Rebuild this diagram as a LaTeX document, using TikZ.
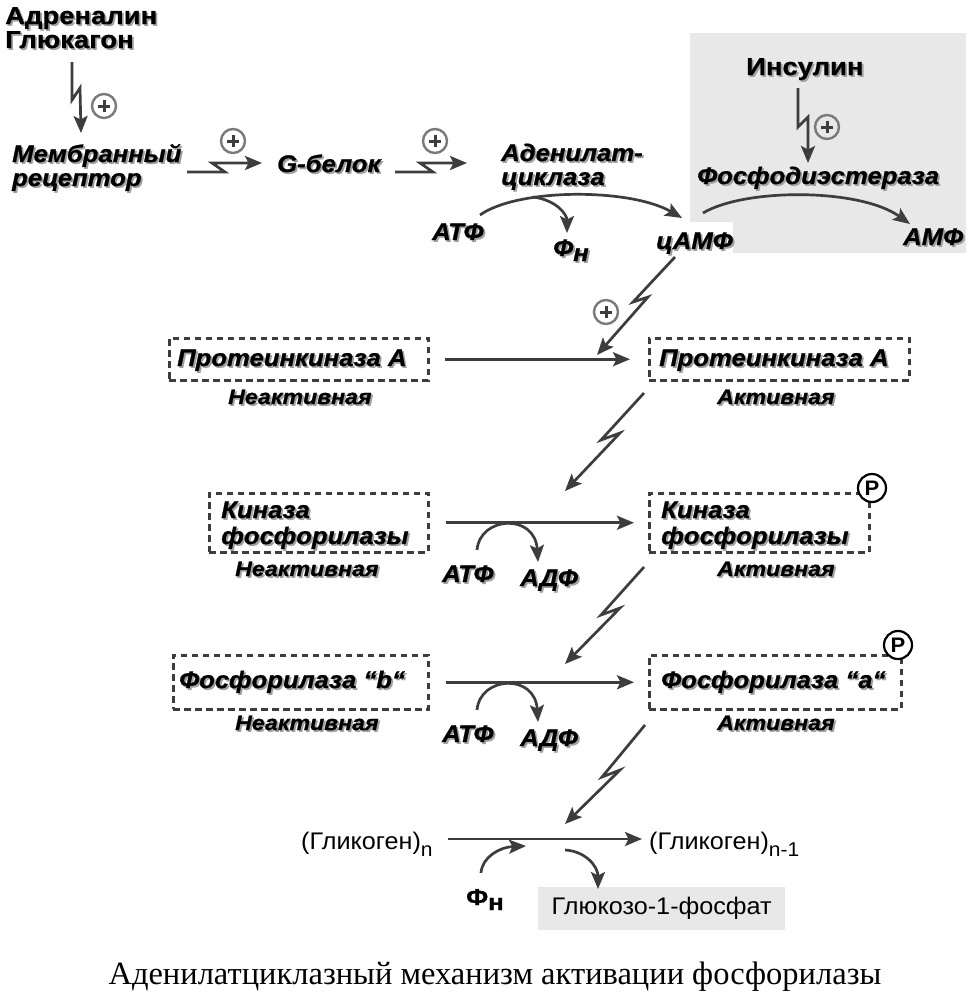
\documentclass[tikz,border=0pt]{standalone}
\usepackage{fontspec}
\setmainfont{Liberation Serif}
\newfontfamily\fbu{Liberation Sans}[FakeStretch=1.12, FakeBold=0.8]
\newfontfamily\fbi{Liberation Sans}[FakeStretch=1.07, FakeBold=0.9]
\newfontfamily\fbs{Liberation Sans}[FakeStretch=1.1, FakeBold=0.8]
\newfontfamily\freg{Liberation Sans}[FakeStretch=1.05]
\usetikzlibrary{arrows.meta,calc}
\definecolor{ln}{HTML}{3D3D3D}
\definecolor{shd}{HTML}{A0A0A0}
\definecolor{gbox}{HTML}{E8E8E8}
\definecolor{pc}{HTML}{7A7A7A}
\newcommand\sh[1]{\leavevmode\rlap{\kern1.8pt\raisebox{-1.8pt}{\textcolor{shd}{#1}}}#1}
\tikzset{
 lbl/.style={inner sep=0pt, anchor=base west, font=\fbi\bfseries\itshape\fontsize{24}{26}\selectfont},
 lblu/.style={inner sep=0pt, anchor=base west, font=\fbu\bfseries\fontsize{24.5}{26}\selectfont},
 sml/.style={inner sep=0pt, anchor=base west, font=\fbs\bfseries\itshape\fontsize{21}{23}\selectfont},
 reg/.style={inner sep=0pt, anchor=base west, font=\freg\fontsize{24}{26}\selectfont},
 arr/.style={draw=ln, line width=2.7pt, line join=miter, -{Stealth[length=17pt,width=14pt,inset=3.5pt]}},
 dbox/.style={draw=ln, line width=2.5pt, dash pattern=on 6.5pt off 4.5pt, inner sep=0pt, anchor=north west},
 plus/.style={circle, draw=pc, line width=2.4pt, minimum size=24pt, inner sep=0pt,
   path picture={\draw[ln, line width=3pt]
     ([xshift=-6pt]path picture bounding box.center) -- ([xshift=6pt]path picture bounding box.center)
     ([yshift=-6pt]path picture bounding box.center) -- ([yshift=6pt]path picture bounding box.center);}},
 pcirc/.style={circle, draw=black, line width=2.2pt, fill=white, minimum size=28pt, inner sep=0pt, font=\freg\bfseries\fontsize{21}{21}\selectfont},
}
\begin{document}
\begin{tikzpicture}[x=1pt,y=-1pt]
\useasboundingbox[fill=white] (0,0) rectangle (969,1001);
% grey insulin area
\fill[gbox] (690,33) rectangle (966,253);
\fill[white] (640,222) rectangle (733,254);

% top chain
\node[lblu] (adr) at (5,24) {\sh{Адреналин}};
\node[lblu] (glu) at (5,48) {\sh{Глюкагон}};
\coordinate (z1s) at (72,62); \coordinate (z1e) at (81,133);
\draw[arr] (z1s) -- ++(0,38) -- ++(8,-12) -- (z1e);
\node[plus] (p1) at (104,106) {};

\node[lbl] (mem) at (12,162) {\sh{Мембранный}};
\node[lbl] (rec) at (12,186) {\sh{рецептор}};
\coordinate (z2s) at (187,172); \coordinate (z2e) at (262,163);
\draw[arr] (z2s) -- ++(38,0) -- ++(-13,-9) -- (z2e);
\node[plus] (p2) at (233,141) {};

\node[lbl] (gb) at (277,172) {\sh{G-белок}};
\coordinate (z3s) at (395,172); \coordinate (z3e) at (467,163);
\draw[arr] (z3s) -- ++(38,0) -- ++(-13,-9) -- (z3e);
\node[plus] (p3) at (435,141) {};

\node[lbl] (ac1) at (501,161) {\sh{Аденилат-}};
\node[lbl] (ac2) at (501,185) {\sh{циклаза}};
\node[lbl] (atp0) at (432,240) {\sh{АТФ}};
\node[lbl] (fn0) at (553,256) {\sh{Ф\raisebox{-5pt}{н}}};
\node[lbl] (camp) at (656,249) {\sh{цАМФ}};
\coordinate (a0s) at (480,215); \coordinate (a0e) at (682,218);
\draw[arr] (a0s) .. controls (518,188) and (630,188) .. (a0e);
\coordinate (b0s) at (533,197); \coordinate (b0e) at (567,233);
\draw[arr] (b0s) .. controls (556,200) and (567,214) .. (b0e);

% insulin
\node[lblu] (ins) at (746,75) {\sh{Инсулин}};
\coordinate (z4s) at (798,88); \coordinate (z4e) at (808,163);
\draw[arr] (z4s) -- ++(0,39) -- ++(10,-10) -- (z4e);
\node[plus] (p4) at (827,127) {};
\node[lbl] (pde) at (697,184) {\sh{Фосфодиэстераза}};
\node[lbl] (amp) at (903,245) {\sh{АМФ}};
\coordinate (a1s) at (703,213); \coordinate (a1e) at (910,224);
\draw[arr] (a1s) .. controls (745,188) and (860,188) .. (a1e);

% cAMP -> PKA
\coordinate (z5s) at (675,257); \coordinate (z5e) at (597,355);
\draw[arr] (z5s) -- (633,302) -- (648,297) -- (z5e);
\node[plus] (p5) at (606,312) {};

% row 1
\node[dbox, minimum width=259pt, minimum height=42pt] (pkL) at (168,337) {};
\node[lbl] (pkLt) at (177,366) {\sh{Протеинкиназа А}};
\node[sml] (in1) at (228,404) {\sh{Неактивная}};
\node[dbox, minimum width=260pt, minimum height=42pt] (pkR) at (648,337) {};
\node[lbl] (pkRt) at (659,366) {\sh{Протеинкиназа А}};
\node[sml] (ac1a) at (717,404) {\sh{Активная}};
\draw[arr, shorten <=15pt, shorten >=18pt] (pkL) -- (pkR);

\coordinate (z6s) at (644,393); \coordinate (z6e) at (565,491);
\draw[arr] (z6s) -- (601,440) -- (620,433) -- (z6e);

% row 2
\node[dbox, minimum width=219pt, minimum height=59pt] (kfL) at (208,492) {};
\node[lbl] (kfLt1) at (221,518) {\sh{Киназа}};
\node[lbl] (kfLt2) at (221,544) {\sh{фосфорилазы}};
\node[sml] (in2) at (235,576) {\sh{Неактивная}};
\node[dbox, minimum width=220pt, minimum height=59pt] (kfR) at (648,492) {};
\node[lbl] (kfRt1) at (661,518) {\sh{Киназа}};
\node[lbl] (kfRt2) at (661,544) {\sh{фосфорилазы}};
\node[sml] (ac2a) at (717,576) {\sh{Активная}};
\node[pcirc] (P1) at (872,488) {P};
\draw[arr, shorten <=16pt, shorten >=14pt] (kfL) -- (kfR);
\node[lbl] (atp2) at (442,582) {\sh{АТФ}};
\node[lbl] (adp2) at (520,586) {\sh{АДФ}};
\coordinate (c2s) at (477,550); \coordinate (c2e) at (538,562);
\draw[arr] (c2s) .. controls (480,516) and (535,513) .. (c2e);

\coordinate (z7s) at (644,567); \coordinate (z7e) at (565,664);
\draw[arr] (z7s) -- (601,615) -- (620,608) -- (z7e);

% row 3
\node[dbox, minimum width=255pt, minimum height=54pt] (phL) at (172,654) {};
\node[lbl] (phLt) at (179,688) {\sh{Фосфорилаза “b“}};
\node[sml] (in3) at (235,730) {\sh{Неактивная}};
\node[dbox, minimum width=252pt, minimum height=54pt] (phR) at (648,654) {};
\node[lbl] (phRt) at (661,688) {\sh{Фосфорилаза “a“}};
\node[sml] (ac3a) at (717,730) {\sh{Активная}};
\node[pcirc] (P2) at (898,645) {P};
\draw[arr, shorten <=16pt, shorten >=14pt] (phL) -- (phR);
\node[lbl] (atp3) at (442,742) {\sh{АТФ}};
\node[lbl] (adp3) at (520,746) {\sh{АДФ}};
\coordinate (c3s) at (477,710); \coordinate (c3e) at (538,722);
\draw[arr] (c3s) .. controls (480,676) and (535,673) .. (c3e);

\coordinate (z8s) at (645,725); \coordinate (z8e) at (565,824);
\draw[arr] (z8s) -- (602,777) -- (620,770) -- (z8e);

% row 4
\node[reg] (gl1) at (301,849) {(Гликоген)\raisebox{-7pt}{\fontsize{20}{20}\selectfont n}};
\node[reg] (gl2) at (649,849) {(Гликоген)\raisebox{-7pt}{\fontsize{20}{20}\selectfont n-1}};
\coordinate (g1e) at (448,839); \coordinate (g2w) at (642,839);
\draw[arr] (g1e) -- (g2w);
\node[inner sep=0pt, anchor=base west, font=\fbu\bfseries\fontsize{23}{25}\selectfont] (fn4) at (466,905) {Ф\raisebox{-5pt}{н}};
\node[fill=gbox, inner sep=0pt, minimum width=247pt, minimum height=43pt, anchor=north west, font=\freg\fontsize{24}{26}\selectfont] (g1p) at (538,887) {Глюкозо-1-фосфат};
\coordinate (d1s) at (481,873); \coordinate (d1e) at (526,846);
\draw[arr] (d1s) .. controls (482,857) and (500,847) .. (d1e);
\coordinate (d2s) at (565,850); \coordinate (d2e) at (598,889);
\draw[arr] (d2s) .. controls (585,851) and (598,866) .. (d2e);

% caption
\node[inner sep=0pt, anchor=base, font=\fontsize{32.5}{34}\selectfont] (cap) at (495,984) {Аденилатциклазный механизм активации фосфорилазы};
\end{tikzpicture}
\end{document}
